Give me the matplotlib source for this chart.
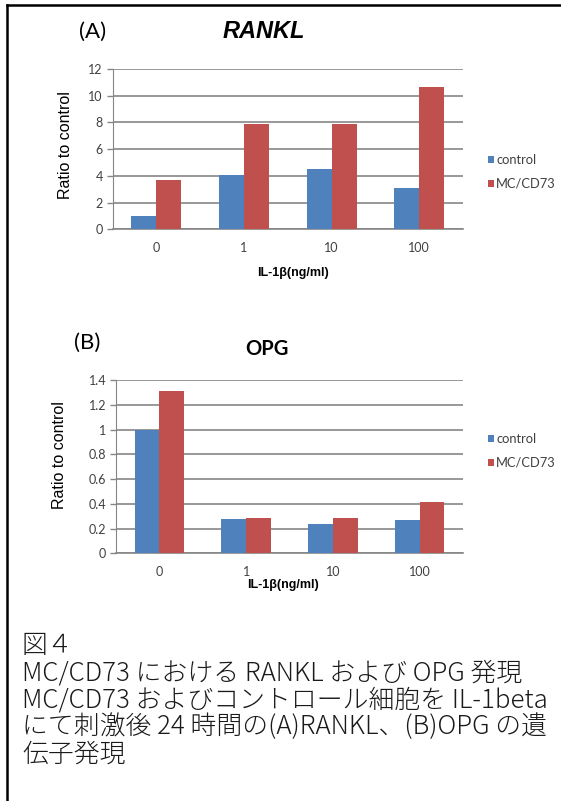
#!/usr/bin/env python3
"""RANKL / OPG expression in MC/CD73 vs control after IL-1beta stimulation (Fig. 4)."""
import matplotlib
matplotlib.use("Agg")
import matplotlib.pyplot as plt
import numpy as np

W, H = 561, 801
DPI = 100

DOSES = ["0", "1", "10", "100"]
SERIES = ["control", "MC/CD73"]
RANKL_CONTROL = [1.0, 4.06, 4.51, 3.12]
RANKL_MC = [3.69, 7.86, 7.88, 10.65]
OPG_CONTROL = [1.0, 0.275, 0.237, 0.267]
OPG_MC = [1.31, 0.285, 0.285, 0.412]

CAPTION = [
    "図４",
    "MC/CD73 における RANKL および OPG 発現",
    "MC/CD73 およびコントロール細胞を IL-1beta",
    "にて刺激後 24 時間の(A)RANKL、(B)OPG の遺",
    "伝子発現",
]

BLUE = "#4F81BD"
RED = "#C0504D"
GRID = "#868686"
TICK = "#404040"
JP = ["Noto Sans CJK JP", "DejaVu Sans"]


def fx(px):
    return px / W


def fy(py):
    return 1 - py / H


def add_chart(fig, box, control, mc, ymax, ystep, fmt):
    left, top, right, bottom = box
    ax = fig.add_axes([fx(left), fy(bottom), fx(right - left), (bottom - top) / H])
    x = np.arange(len(DOSES))
    bw = 1 / 3.5
    b1 = ax.bar(x - bw / 2, control, bw, color=BLUE, label=SERIES[0], zorder=3)
    b2 = ax.bar(x + bw / 2, mc, bw, color=RED, label=SERIES[1], zorder=3)
    ax.set_xlim(-0.5, len(DOSES) - 0.5)
    ax.set_ylim(0, ymax)
    ticks = np.arange(0, ymax + ystep / 2, ystep)
    ax.set_yticks(ticks)
    ax.set_yticklabels([fmt(t) for t in ticks], fontsize=9, color=TICK, family="Lato")
    ax.set_xticks(x)
    ax.set_xticklabels(DOSES, fontsize=9, color=TICK, family="Lato")
    ax.tick_params(axis="x", length=0, pad=9)
    ax.tick_params(axis="y", length=4, width=1, color=GRID, pad=3)
    ax.yaxis.grid(True, color=GRID, linewidth=1.2, zorder=0)
    for s in ("top", "right"):
        ax.spines[s].set_visible(False)
    ax.spines["left"].set_color(GRID)
    ax.spines["bottom"].set_color(GRID)
    ax.spines["bottom"].set_linewidth(1.2)
    ax.set_facecolor("none")
    return ax, (b1, b2)


def add_legend(ax, handles, y):
    ax.legend(handles, SERIES, loc="center left", bbox_to_anchor=(fx(476), fy(y)),
              bbox_transform=fig.transFigure, frameon=False,
              prop={"family": "Lato", "size": 9.3}, handlelength=0.5, handleheight=0.5,
              handletextpad=0.15, labelspacing=0.9, labelcolor=TICK)


fig = plt.figure(figsize=(W / DPI, H / DPI), dpi=DPI)

# frame (left and top edges visible in the scan)
fig.add_artist(plt.Line2D([fx(7), fx(7)], [0, fy(5)], color="black", linewidth=1.8))
fig.add_artist(plt.Line2D([fx(7), 1], [fy(5), fy(5)], color="black", linewidth=1.8))

# (A) RANKL
axA, hA = add_chart(fig, (112.5, 69, 463, 229.3), RANKL_CONTROL, RANKL_MC, 12, 2,
                    lambda t: f"{t:g}")
fig.text(fx(93), fy(32), "(A)", fontsize=16, family="Lato", ha="center", va="center")
fig.text(fx(264), fy(32), "RANKL", fontsize=17, family="Liberation Sans", style="italic",
         fontweight="bold", ha="center", va="center")
fig.text(fx(65), fy(145), "Ratio to control", fontsize=11.5, family="Liberation Sans",
         rotation=90, ha="center", va="center")
fig.text(fx(293), fy(273), "IL-1β(ng/ml)", fontsize=9, family="Liberation Sans",
         fontweight="bold", ha="center", va="center")
add_legend(axA, hA, 172)

# (B) OPG
axB, hB = add_chart(fig, (116, 380, 463, 553.3), OPG_CONTROL, OPG_MC, 1.4, 0.2,
                    lambda t: f"{t:.1f}".rstrip("0").rstrip(".") if t else "0")
fig.text(fx(87), fy(343), "(B)", fontsize=16, family="Lato", ha="center", va="center")
fig.text(fx(266.5), fy(349), "OPG", fontsize=14.5, family="Lato", fontweight="bold",
         ha="center", va="center")
fig.text(fx(60), fy(455), "Ratio to control", fontsize=11.5, family="Liberation Sans",
         rotation=90, ha="center", va="center")
fig.text(fx(283.5), fy(585), "IL-1β(ng/ml)", fontsize=9, family="Liberation Sans",
         fontweight="bold", ha="center", va="center")
add_legend(axB, hB, 451)

# caption
for i, line in enumerate(CAPTION):
    fig.text(fx(22), fy(646 + 27 * i), line, fontsize=18.6, family=JP, fontweight="light",
             ha="left", va="center", color="#1a1a1a")

fig.savefig("out.png", dpi=DPI)
